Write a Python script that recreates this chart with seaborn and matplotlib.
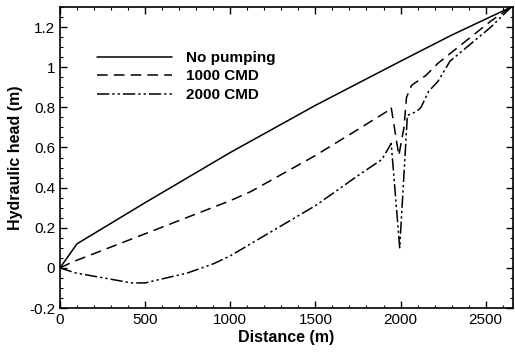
import matplotlib
matplotlib.use("Agg")
import matplotlib.pyplot as plt
from matplotlib.ticker import MultipleLocator
import seaborn as sns
import pandas as pd

sns.set_theme(style="ticks")
plt.rcParams['font.family'] = ['Liberation Sans', 'DejaVu Sans']
plt.rcParams['text.color'] = 'black'
plt.rcParams['axes.labelcolor'] = 'black'

x_none = [0, 100, 500, 1000, 1500, 2000, 2300, 2500, 2650]
y_none = [0.0, 0.12, 0.325, 0.575, 0.81, 1.03, 1.16, 1.24, 1.30]

x_1000 = [0, 75, 500, 1000, 1120, 1500, 1750, 1930, 1945, 1990, 2020, 2035, 2065, 2150, 2220, 2530, 2650]
y_1000 = [0.0, 0.03, 0.17, 0.335, 0.38, 0.56, 0.69, 0.785, 0.80, 0.56, 0.70, 0.85, 0.91, 0.96, 1.02, 1.23, 1.30]

x_2000 = [0, 90, 420, 500, 750, 900, 1000, 1140, 1500, 1750, 1890, 1945, 1995, 2040, 2095, 2120, 2165, 2220, 2290, 2530, 2650]
y_2000 = [0.0, -0.025, -0.075, -0.075, -0.025, 0.02, 0.06, 0.13, 0.31, 0.46, 0.54, 0.62, 0.10, 0.76, 0.78, 0.80, 0.88, 0.93, 1.03, 1.20, 1.30]

labels = ["No pumping", "1000 CMD", "2000 CMD"]

df = pd.concat([
    pd.DataFrame({"Distance": x_none, "Head": y_none, "Case": labels[0]}),
    pd.DataFrame({"Distance": x_1000, "Head": y_1000, "Case": labels[1]}),
    pd.DataFrame({"Distance": x_2000, "Head": y_2000, "Case": labels[2]}),
], ignore_index=True)

fig = plt.figure(figsize=(5.15, 3.52), dpi=100)
ax = fig.add_axes([0.1165, 0.125, 0.8795, 0.855])

styles = {labels[0]: "-", labels[1]: (0, (7, 4)), labels[2]: (0, (8, 2, 1.5, 2, 1.5, 2))}
for lab in labels:
    sub = df[df["Case"] == lab]
    sns.lineplot(data=sub, x="Distance", y="Head", ax=ax, color="black",
                 linewidth=1.1, linestyle=styles[lab], label=lab,
                 estimator=None, sort=False)

ax.set_xlim(0, 2660)
ax.set_ylim(-0.2, 1.3)
ax.xaxis.set_major_locator(MultipleLocator(500))
ax.xaxis.set_minor_locator(MultipleLocator(100))
ax.yaxis.set_minor_locator(MultipleLocator(0.05))
ax.set_yticks([-0.2, 0, 0.2, 0.4, 0.6, 0.8, 1.0, 1.2])
ax.set_yticklabels(["-0.2", "0", "0.2", "0.4", "0.6", "0.8", "1", "1.2"])
ax.tick_params(which="both", direction="in", top=True, right=True, colors="black",
               labelcolor="black", labelsize=11)
ax.tick_params(which="major", length=5, width=1)
ax.tick_params(which="minor", length=2.5, width=0.8)
for s in ax.spines.values():
    s.set_linewidth(1.2)
    s.set_color("black")

ax.set_xlabel("Distance (m)", fontsize=11.5, fontweight="bold", labelpad=2, color="black")
ax.set_ylabel("Hydraulic head (m)", fontsize=11.5, fontweight="bold", labelpad=4, color="black")

leg = ax.legend(loc="upper left", bbox_to_anchor=(0.052, 0.90), frameon=False,
                handlelength=4.9, handletextpad=0.9, labelspacing=0.3,
                prop={"weight": "bold", "size": 11}, labelcolor="black")

fig.savefig("out.png", dpi=100)
